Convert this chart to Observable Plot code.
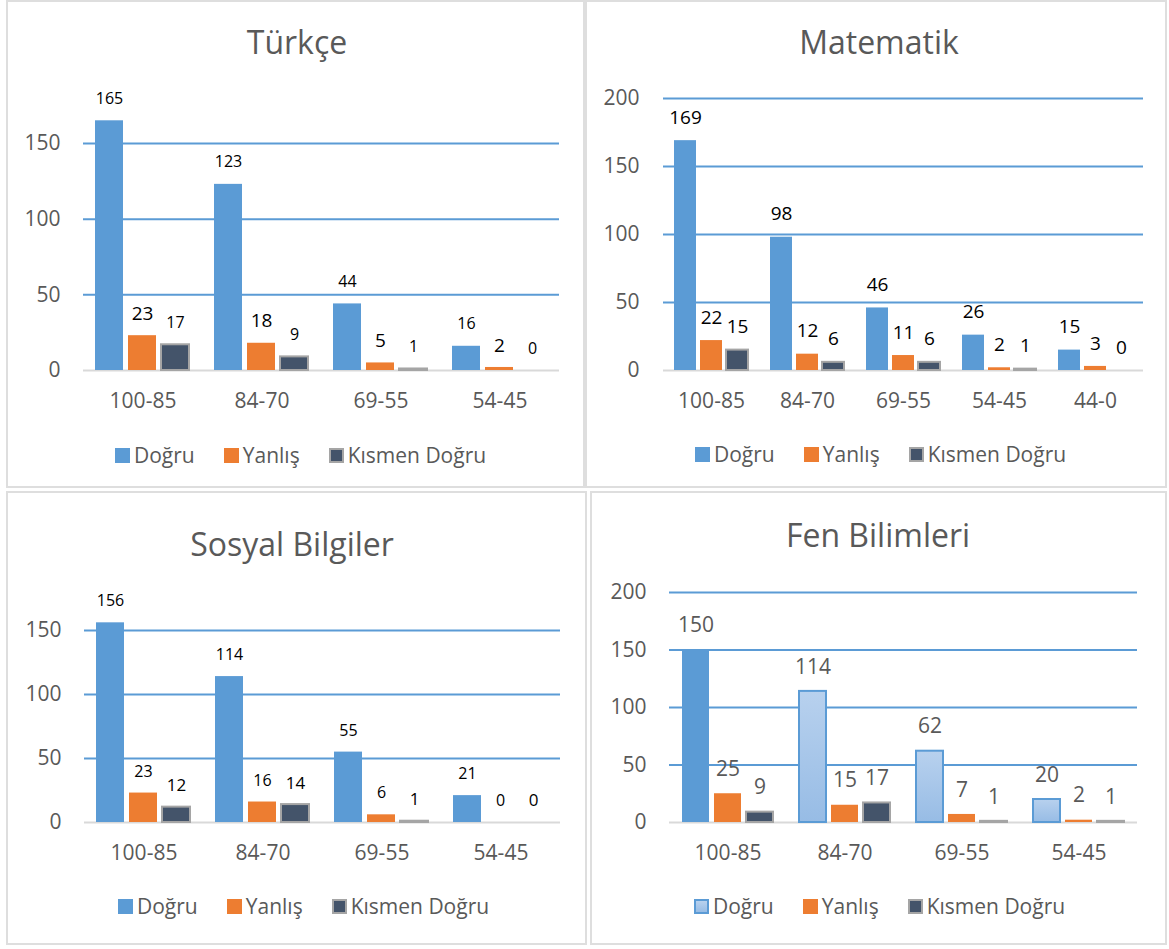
<!DOCTYPE html>
<html><head><meta charset="utf-8">
<script src="https://cdn.jsdelivr.net/npm/d3@7"></script>
<script src="https://cdn.jsdelivr.net/npm/@observablehq/plot@0.6"></script>
<style>
body{margin:0;background:#fff;font-family:"Open Sans",sans-serif;}
#page{position:relative;width:1169px;height:949px;overflow:hidden;background:#fff}
.panel{position:absolute;box-sizing:border-box;border:2px solid #dedede;}
.title{position:absolute;font-size:32px;color:#595959;white-space:nowrap;transform:translateX(-50%);line-height:1}
.legend{position:absolute;display:flex;align-items:center;font-size:21px;color:#595959;white-space:nowrap;line-height:1;height:21px}
.item{display:flex;align-items:center;margin-right:29px}
.sw{width:15px;height:15px;box-sizing:border-box;margin-right:4px}
#page svg{position:absolute}
</style></head>
<body><div id="page"></div>
<script>
// ---- data ----
const cats4 = ["100-85", "84-70", "69-55", "54-45"];
const cats5 = ["100-85", "84-70", "69-55", "54-45", "44-0"];
const seriesNames = ["Doğru", "Yanlış", "Kısmen Doğru"];
const ticks150 = [0, 50, 100, 150];
const ticks200 = [0, 50, 100, 150, 200];

const turkceTitle = "Türkçe";
const turkceDogru = [165, 123, 44, 16];
const turkceYanlis = [23, 18, 5, 2];
const turkceKismen = [17, 9, 1, 0];

const matTitle = "Matematik";
const matDogru = [169, 98, 46, 26, 15];
const matYanlis = [22, 12, 11, 2, 3];
const matKismen = [15, 6, 6, 1, 0];

const sosyalTitle = "Sosyal Bilgiler";
const sosyalDogru = [156, 114, 55, 21];
const sosyalYanlis = [23, 16, 6, 0];
const sosyalKismen = [12, 14, 1, 0];

const fenTitle = "Fen Bilimleri";
const fenDogru = [150, 114, 62, 20];
const fenYanlis = [25, 15, 7, 2];
const fenKismen = [9, 17, 1, 1];

// ---- styles ----
const BLUE = "#5b9bd5", ORANGE = "#ed7d31", DARK = "#44546a", GRAYB = "#a5a5a5";
const page = document.getElementById("page");

function div(cls, css, html) {
  const d = document.createElement("div");
  d.className = cls;
  Object.assign(d.style, css);
  if (html != null) d.innerHTML = html;
  page.appendChild(d);
  return d;
}

function build(cfg) {
  div("panel", {left: cfg.box[0] + "px", top: cfg.box[1] + "px", width: cfg.box[2] + "px", height: cfg.box[3] + "px"});
  div("title", {left: cfg.titleX + "px", top: (cfg.titleBase - 28.4) + "px"}, cfg.title);

  const data = [];
  cfg.cats.forEach((c, i) => {
    seriesNames.forEach((s, j) => data.push({cat: c, series: s, value: cfg.values[j][i]}));
  });

  const fen = cfg.gradient;
  const marks = [
    Plot.ruleY(cfg.ticks.filter(t => t > 0), {stroke: BLUE, strokeWidth: 2}),
    Plot.ruleY([0], {stroke: "#d9d9d9", strokeWidth: 2}),
  ];
  if (fen) {
    marks.push(Plot.barY(data, {filter: d => d.series === seriesNames[0] && d.cat === cfg.cats[0], x: "series", y: "value", fill: BLUE}));
    marks.push(Plot.barY(data, {filter: d => d.series === seriesNames[0] && d.cat !== cfg.cats[0], x: "series", y: "value", fill: "url(#fenGrad)", stroke: BLUE, strokeWidth: 2}));
  } else {
    marks.push(Plot.barY(data, {filter: d => d.series === seriesNames[0], x: "series", y: "value", fill: BLUE}));
  }
  marks.push(Plot.barY(data, {filter: d => d.series === seriesNames[1], x: "series", y: "value", fill: ORANGE}));
  marks.push(Plot.barY(data, {filter: d => d.series === seriesNames[2], x: "series", y: "value", fill: DARK, stroke: GRAYB, strokeWidth: 2}));
  seriesNames.forEach((s, j) => {
    marks.push(Plot.text(data, {filter: d => d.series === s, x: "series", y: "value", text: d => String(d.value),
      dy: cfg.labelDy, lineAnchor: "middle", fontSize: cfg.labelSizes[j], fill: cfg.labelColor}));
  });

  const svg = Plot.plot({
    width: cfg.w, height: cfg.h,
    marginLeft: cfg.ml, marginRight: cfg.mr, marginTop: cfg.mt, marginBottom: cfg.h - cfg.y0,
    style: {fontFamily: "Open Sans", fontSize: "21px", color: "#595959", background: "transparent", overflow: "visible"},
    facet: {data, x: "cat"},
    fx: {domain: cfg.cats, padding: 0, label: null, tickSize: 0, tickPadding: 23, axis: "bottom"},
    x: {domain: seriesNames, axis: null, paddingInner: 0.15, paddingOuter: 0.37},
    y: {domain: [0, cfg.yMax], ticks: cfg.ticks, tickSize: 0, tickPadding: cfg.tp, label: null, nice: false},
    marks
  });
  if (fen) {
    const defs = d3.select(svg).insert("defs", ":first-child");
    const g = defs.append("linearGradient").attr("id", "fenGrad").attr("x1", 0).attr("y1", 0).attr("x2", 0).attr("y2", 1);
    g.append("stop").attr("offset", "0%").attr("stop-color", "#b8d1ee");
    g.append("stop").attr("offset", "100%").attr("stop-color", "#97bce5");
  }
  svg.style.left = cfg.box[0] + "px";
  svg.style.top = cfg.box[1] + "px";
  page.appendChild(svg);

  const lg = div("legend", {left: cfg.legendX + "px", top: (cfg.legendY - 10.5) + "px"});
  const swStyles = [
    fen ? "background:linear-gradient(#b8d1ee,#97bce5);border:2px solid " + BLUE : "background:" + BLUE,
    "background:" + ORANGE,
    "background:" + DARK + ";border:2px solid " + GRAYB
  ];
  seriesNames.forEach((s, j) => {
    const it = document.createElement("div");
    it.className = "item";
    it.innerHTML = `<div class="sw" style="${swStyles[j]}"></div><span>${s}</span>`;
    lg.appendChild(it);
  });
}

build({title: turkceTitle, cats: cats4, values: [turkceDogru, turkceYanlis, turkceKismen],
  box: [6, 0, 579, 488], titleX: 297, titleBase: 54,
  w: 579, h: 420, ml: 77, mr: 26, y0: 370, yMax: 180, mt: 370 - 180 * 227 / 150, ticks: ticks150, tp: 23,
  labelDy: -22, labelSizes: [16, 19, 16], labelColor: "#000", legendX: 115, legendY: 455});

build({title: matTitle, cats: cats5, values: [matDogru, matYanlis, matKismen],
  box: [585, 0, 582, 488], titleX: 879, titleBase: 54,
  w: 582, h: 420, ml: 78, mr: 24, y0: 370, yMax: 200, mt: 98, ticks: ticks200, tp: 24,
  labelDy: -23, labelSizes: [19, 19, 19], labelColor: "#000", legendX: 695, legendY: 454});

build({title: sosyalTitle, cats: cats4, values: [sosyalDogru, sosyalYanlis, sosyalKismen],
  box: [6, 491, 581, 454], titleX: 292, titleBase: 556,
  w: 581, h: 390, ml: 76, mr: 26, y0: 331, yMax: 180, mt: 331 - 180 * 1.28, ticks: ticks150, tp: 23,
  labelDy: -21.5, labelSizes: [16, 16, 17], labelColor: "#000", legendX: 118, legendY: 906});

build({title: fenTitle, cats: cats4, values: [fenDogru, fenYanlis, fenKismen], gradient: true,
  box: [590, 491, 577, 454], titleX: 878, titleBase: 547,
  w: 577, h: 390, ml: 77, mr: 29, y0: 331, yMax: 200, mt: 101, ticks: ticks200, tp: 23,
  labelDy: -24.5, labelSizes: [21, 21, 21], labelColor: "#595959", legendX: 694, legendY: 906});
</script>
</body></html>
